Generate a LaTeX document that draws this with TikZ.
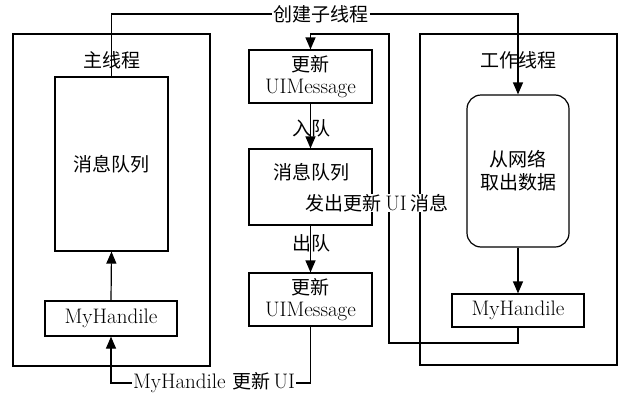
\documentclass[tikz,border=0pt]{standalone}
\usepackage{fontspec}
\newfontfamily\cjk{Noto Sans CJK SC}
\usetikzlibrary{arrows.meta}
\newcommand\zh{\cjk\fontsize{19}{24}\selectfont}
\begin{document}
\begin{tikzpicture}[x=1pt,y=-1pt,
  base/.style={font=\fontsize{21}{24}\selectfont, align=center, inner sep=1pt},
  box/.style={base, draw, line width=1.2pt, inner sep=0pt},
  ln/.style={line width=1.2pt},
  arr/.style={ln, -{Triangle[length=12pt,width=10pt]}}]
\useasboundingbox (0,0) rectangle (624,399);
% outer thread boxes
\node[box, minimum width=197pt, minimum height=332pt] (mainouter) at (111.5,200) {};
\node[box, minimum width=197pt, minimum height=331pt] (workouter) at (518.5,199.5) {};
\node[base] (mainlbl) at (112,60) {\zh 主线程};
\node[base] (worklbl) at (518,60) {\zh 工作线程};
% main thread
\node[box, minimum width=113pt, minimum height=174pt] (mq) at (111.5,164) {\zh 消息队列};
\node[box, minimum width=132pt, minimum height=35pt] (mh1) at (111,318.5) {MyHandile};
% worker thread
\node[box, rounded corners=14pt, minimum width=102pt, minimum height=152pt] (fetch) at (518,171) {\zh 从网络\\[-1pt]\zh 取出数据};
\node[box, minimum width=132pt, minimum height=33pt] (mh2) at (518,310.5) {MyHandile};
% middle column
\node[box, minimum width=123pt, minimum height=53pt] (b1) at (310.5,76.5) {{\zh 更新}\\[-2pt]UIMessage};
\node[box, minimum width=123pt, minimum height=76pt] (b2) at (310.5,187) {};
\node[base] (b2t) at (311,172) {\zh 消息队列};
\node[box, minimum width=123pt, minimum height=53pt] (b3) at (310.5,299.5) {{\zh 更新}\\[-2pt]UIMessage};
\node[base] (enq) at (311,128) {\zh 入队};
\node[base] (deq) at (311,243) {\zh 出队};
% connector labels
\node[base] (create) at (321,14) {\zh 创建子线程};
\node[base] (upd) at (214,383) {MyHandile {\zh 更新}\,UI};
% connectors
\coordinate (c1) at (389,343);
\coordinate (c2) at (389,34);
\draw[ln] (mq.north) |- (create.west);
\draw[arr] (create.east) -| (fetch.north);
\draw[arr] (fetch.south) -- (mh2.north);
\draw[arr] (mh2.south) |- (c1) -- (c2) -| (b1.north);
\draw[arr] (b1.south) -- (b2.north);
\draw[arr] (b2.south) -- (b3.north);
\draw[ln] (b3.south) |- (upd.east);
\draw[arr] (upd.west) -| (mh1.south);
\draw[arr] (mh1.north) -- (mq.south);
\node[base, fill=white, inner sep=0pt] (send) at (377,203) {{\zh 发出更新}\,UI\,{\zh 消息}};
\end{tikzpicture}
\end{document}
